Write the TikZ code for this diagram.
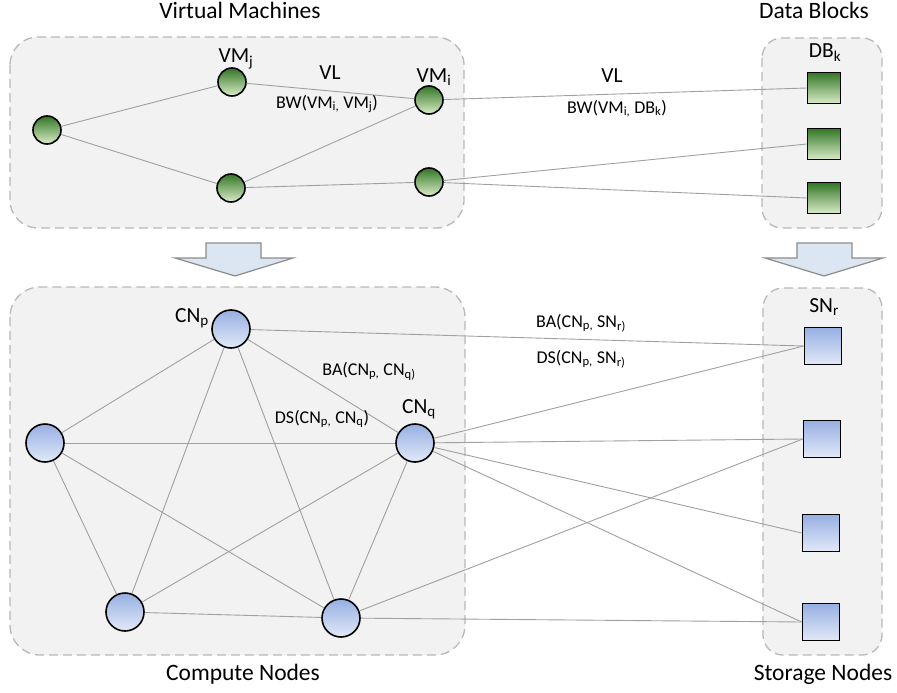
\documentclass[tikz,border=0pt]{standalone}
\usepackage{fontspec}
\setmainfont{Carlito}
\usetikzlibrary{positioning}

\definecolor{vmtop}{RGB}{50,118,38}
\definecolor{vmbot}{RGB}{218,236,200}
\definecolor{cntop}{RGB}{150,175,226}
\definecolor{cnbot}{RGB}{226,233,248}
\definecolor{boxfill}{RGB}{242,242,242}
\definecolor{boxline}{RGB}{185,185,185}
\definecolor{linkc}{RGB}{160,160,160}
\definecolor{arrfill}{RGB}{220,230,242}
\definecolor{arrline}{RGB}{140,140,140}

\newcommand{\sbs}[1]{\textsubscript{#1}}

\tikzset{
  grp/.style={draw=boxline, fill=boxfill, dash pattern=on 9pt off 5pt, line width=1.3pt},
  vm/.style={circle, draw, line width=1.6pt, minimum size=28pt, inner sep=0pt, top color=vmtop, bottom color=vmbot},
  db/.style={rectangle, draw, line width=1.6pt, minimum width=33pt, minimum height=31pt, inner sep=0pt, top color=vmtop, bottom color=vmbot},
  cn/.style={circle, draw, line width=1.6pt, minimum size=38pt, inner sep=0pt, top color=cntop, bottom color=cnbot},
  sn/.style={rectangle, draw, line width=1.6pt, minimum size=37pt, inner sep=0pt, top color=cntop, bottom color=cnbot},
  link/.style={draw=linkc, line width=0.9pt},
  title/.style={anchor=base, inner sep=0pt, font=\fontsize{23.5}{28}\selectfont},
  tag/.style={anchor=base, inner sep=0pt, font=\fontsize{21.5}{26}\selectfont},
  cost/.style={anchor=base, inner sep=0pt, font=\fontsize{18}{22}\selectfont},
  mapto/.style={draw=arrline, fill=arrfill, line width=1.2pt}
}

\begin{document}
\begin{tikzpicture}[x=1pt, y=-1pt]
    \useasboundingbox (0,0) rectangle (897,693);

    % Groups
    \draw[grp, rounded corners=28pt] (10,37) rectangle (464,228);
    \draw[grp, rounded corners=20pt] (762,38) rectangle (882,228);
    \draw[grp, rounded corners=30pt] (10,287) rectangle (465,655);
    \draw[grp, rounded corners=20pt] (763,288) rectangle (882,655);

    % Mapping arrows
    \draw[mapto] (206,243) -- (261,243) -- (261,258) -- (293,258) -- (235,276)
        -- (175,258) -- (206,258) -- cycle;
    \draw[mapto] (797,243) -- (852,243) -- (852,258) -- (883,258) -- (824,276)
        -- (765,258) -- (797,258) -- cycle;

    % Titles
    \node[title] (tVM) at (240,19) {Virtual Machines};
    \node[title] (tDB) at (814,19) {Data Blocks};
    \node[title] (tCN) at (243,680) {Compute Nodes};
    \node[title] (tSN) at (823,680) {Storage Nodes};

    % Virtual machines and data blocks
    \node[vm] (vmL) at (47,130) {};
    \node[vm] (vmJ) at (232,82) {};
    \node[vm] (vmI) at (429,100) {};
    \node[vm] (vmB) at (231,188) {};
    \node[vm] (vmC) at (429,182) {};
    \node[db] (db1) at (824,88) {};
    \node[db] (db2) at (824,144) {};
    \node[db] (db3) at (824,198) {};

    \draw[link] (vmL) -- (vmJ);
    \draw[link] (vmL) -- (vmB);
    \draw[link] (vmJ) -- (vmI);
    \draw[link] (vmB) -- (vmI);
    \draw[link] (vmB) -- (vmC);
    \draw[link] (vmI) -- (db1.west);
    \draw[link] (vmC) -- (db2.west);
    \draw[link] (vmC) -- (db3.west);

    \node[tag] (lVMj) at (236,63) {VM\sbs{j}};
    \node[tag] (lVMi) at (434,82) {VM\sbs{i}};
    \node[tag] (lDBk) at (825,58) {DB\sbs{k}};
    \node[tag] (lVL1) at (330,80) {VL};
    \node[tag] (lVL2) at (612,83) {VL};
    \node[cost] (lBW1) at (327,108) {BW(VM\sbs{i,} VM\sbs{j})};
    \node[cost] (lBW2) at (617,113) {BW(VM\sbs{i,} DB\sbs{k})};

    % Compute nodes and storage nodes
    \node[cn] (cnP) at (231,329) {};
    \node[cn] (cnL) at (45,443) {};
    \node[cn] (cnQ) at (415,443) {};
    \node[cn] (cnA) at (125,612) {};
    \node[cn] (cnB) at (341,618) {};
    \node[sn] (sn1) at (823,346) {};
    \node[sn] (sn2) at (822,439) {};
    \node[sn] (sn3) at (821,533) {};
    \node[sn] (sn4) at (821,622) {};

    \foreach \a/\b in {cnL/cnP, cnL/cnQ, cnL/cnA, cnL/cnB, cnP/cnQ,
                       cnP/cnA, cnP/cnB, cnQ/cnA, cnQ/cnB, cnA/cnB}
        \draw[link] (\a) -- (\b);
    \foreach \a/\b in {cnP/sn1, cnQ/sn1, cnQ/sn2, cnQ/sn3, cnQ/sn4, cnB/sn2, cnB/sn4}
        \draw[link] (\a) -- (\b.west);

    \node[tag] (lCNp) at (192,322) {CN\sbs{p}};
    \node[tag] (lCNq) at (419,413) {CN\sbs{q}};
    \node[tag] (lSNr) at (824,312) {SN\sbs{r}};
    \node[cost] (lBA1) at (369,375) {BA(CN\sbs{p,} CN\sbs{q)}};
    \node[cost] (lDS1) at (322,423) {DS(CN\sbs{p,} CN\sbs{q})};
    \node[cost] (lBA2) at (581,327) {BA(CN\sbs{p,} SN\sbs{r)}};
    \node[cost] (lDS2) at (581,363) {DS(CN\sbs{p,} SN\sbs{r)}};
\end{tikzpicture}
\end{document}
